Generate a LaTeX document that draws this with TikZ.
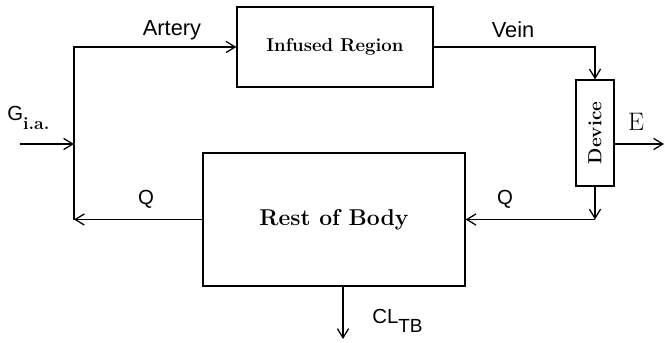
\documentclass[tikz,border=0pt]{standalone}
\usepackage{fontspec}
\usepackage{graphicx}
\newfontfamily\lblfont{Liberation Sans}
\usetikzlibrary{arrows.meta,positioning}

\begin{document}
\begin{tikzpicture}[
  x=0.25mm, y=0.25mm,
  >={Straight Barb[length=2.3mm,width=2.8mm]},
  line width=0.9pt,
  blk/.style={draw, inner sep=0pt},
  lbl/.style={font=\lblfont\fontsize{15.5}{17}\selectfont}
]
\useasboundingbox (0,0) rectangle (665,342);
\node[blk, minimum width=49mm, minimum height=20mm, font=\bfseries\fontsize{13.2}{15}\selectfont] (IR) at (335,295) {Infused Region};
\node[blk, minimum width=65.5mm, minimum height=33.25mm, font=\bfseries\fontsize{16.3}{18}\selectfont] (RB) at (334,122.5) {Rest of Body};
\node[blk, minimum width=9.5mm, minimum height=26.5mm, font=\bfseries\fontsize{13.5}{15}\selectfont] (DV) at (595,209) {\rotatebox{90}{Device}};
\coordinate (LT) at (74,295);
\coordinate (LB) at (74,122.5);
\coordinate (G0) at (20,198);
\coordinate (E1) at (664,198);
\coordinate (CL) at (343,3);
% loop round the body
\draw[->] (LB) -- (LT) -- (IR.west);
\draw[->] (IR.east) -- (IR.east -| DV.north) -- (DV.north);
\draw[->] (DV.south) -- (DV.south |- RB.east);
\draw[->] (DV.south |- RB.east) -- (RB.east);
\draw[->] (RB.west) -- (LB);
% inputs and outputs
\draw[->] (G0) -- (G0 -| LB);
\draw[->] (DV.east |- E1) -- (E1);
\draw[->] (RB.south -| CL) -- (CL);
% labels
\node[lbl] (art) at (172,312) {Artery};
\node[lbl] (vein) at (513,312) {Vein};
\node[lbl, font=\lblfont\fontsize{14.5}{16}\selectfont] (ql) at (146,143) {Q};
\node[lbl, font=\lblfont\fontsize{14.5}{16}\selectfont] (qr) at (505,143) {Q};
\node[lbl, anchor=west, font=\lblfont\fontsize{14.5}{16}\selectfont] (gia) at (2,224) {G\raisebox{-0.8ex}{\rmfamily\bfseries\fontsize{12.5}{14}\selectfont i.a.}};
\node[font=\fontsize{18}{20}\selectfont] (e) at (636,220) {E};
\node[lbl, anchor=west, font=\lblfont\fontsize{14.5}{16}\selectfont] (cl) at (367,21) {CL\raisebox{-0.8ex}{\fontsize{13.5}{15}\selectfont TB}};
\end{tikzpicture}
\end{document}
